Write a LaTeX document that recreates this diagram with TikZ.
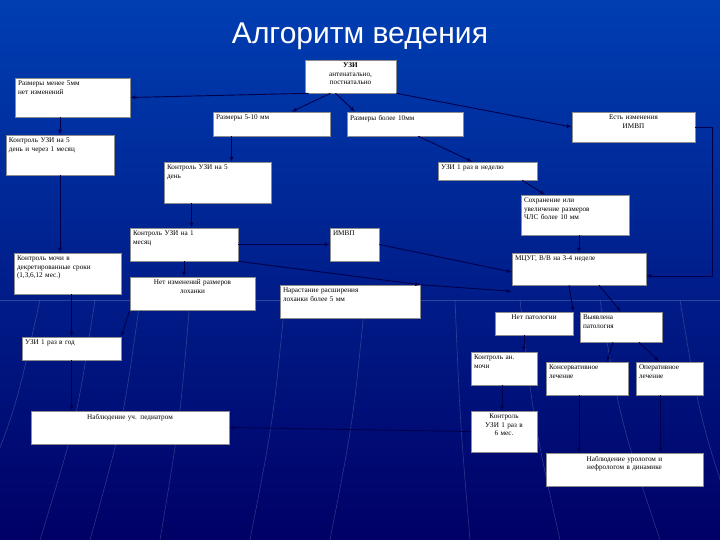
\documentclass[tikz,border=0pt]{standalone}
\usepackage{fontspec}
\setmainfont{Liberation Serif}
\newfontfamily\titlefont{Liberation Sans}
\usetikzlibrary{arrows.meta}
\tikzset{
 box/.style={draw=black!45,fill=white,inner sep=0pt,line width=0.6pt},
 txt/.style={inner sep=3pt,font=\fontsize{7.2}{8.4}\selectfont,text=black},
 arr/.style={draw=blue!30!black,line width=0.9pt,-{Latex[length=5pt,width=4pt]}},
 ln/.style={draw=blue!30!black,line width=0.9pt},
 bgline/.style={draw=white,opacity=0.18,line width=0.6pt}
}
\newcommand\bx[7]{%
\pgfmathsetmacro\bw{#4-#2}\pgfmathsetmacro\bh{#5-#3}\pgfmathsetmacro\tw{#4-#2-6}%
\node[box,minimum width=\bw pt,minimum height=\bh pt] (#1) at ({(#2+#4)/2},{(#3+#5)/2}) {};
\node[txt,text width=\tw pt,align=#6,anchor=north] (#1-t) at (#1.north) {#7};}
\begin{document}
\begin{tikzpicture}[x=1pt,y=-1pt]
\shade[top color=blue!65!cyan!70!black,bottom color=blue!40!black] (0,0) rectangle (720,540);
\useasboundingbox (0,0) rectangle (720,540);
\draw[bgline] (0,300) -- (720,300);
\foreach \a/\b in {95/40,190/160,285/250,365/330,455/470,520/560,600/660,680/740,40/-40,140/90}
  \draw[bgline] (\a,300) .. controls ({\a+(\b-\a)/3},420) .. (\b,540);
\node[font=\titlefont\fontsize{30}{34}\selectfont,text=white] (title) at (360,36) {Алгоритм ведения};
\bx{uzi}{305}{60}{396}{93}{center}{\textbf{УЗИ}\\антенатально,\\постнатально}
\bx{r5}{15}{78}{130}{117}{left}{Размеры менее 5мм\\нет изменений}
\bx{r510}{213}{112}{330}{136}{left}{Размеры 5-10 мм}
\bx{r10}{347}{112}{463}{136}{left}{Размеры более 10мм}
\bx{imvp1}{572}{112}{695}{142}{center}{Есть изменения\\ИМВП}
\bx{k51}{6}{135}{114}{175}{left}{Контроль УЗИ на 5\\день и через 1 месяц}
\bx{k5}{164}{162}{271}{203}{left}{Контроль УЗИ на 5\\день}
\bx{week}{438}{162}{537}{180}{left}{УЗИ 1 раз в неделю}
\bx{save}{521}{195}{629}{235}{left}{Сохранение или\\увеличение размеров\\ЧЛС более 10 мм}
\bx{k1m}{130}{228}{238}{261}{left}{Контроль УЗИ на 1\\месяц}
\bx{imvp2}{330}{228}{379}{261}{left}{ИМВП}
\bx{mcug}{512}{253}{646}{285}{left}{МЦУГ, В/В на 3-4 неделе}
\bx{urine}{14}{253}{121}{294}{left}{Контроль мочи в\\декретированные сроки\\(1,3,6,12 мес.)}
\bx{noch}{130}{277}{255}{310}{center}{Нет изменений размеров\\лоханки}
\bx{grow}{280}{285}{420}{318}{left}{Нарастание расширения\\лоханки более 5 мм}
\bx{nopath}{495}{312}{573}{335}{center}{Нет патологии}
\bx{path}{580}{312}{662}{342}{left}{Выявлена\\патология}
\bx{year}{22}{337}{121}{360}{left}{УЗИ 1 раз в год}
\bx{kan}{471}{352}{537}{385}{left}{Контроль ан.\\мочи}
\bx{cons}{546}{362}{628}{395}{left}{Консервативное\\лечение}
\bx{oper}{636}{362}{703}{395}{left}{Оперативное\\лечение}
\bx{ped}{31}{411}{229}{444}{center}{Наблюдение уч. педиатром}
\bx{k6}{471}{411}{537}{452}{center}{Контроль\\УЗИ 1 раз в\\6 мес.}
\bx{uro}{546}{453}{703}{486}{center}{Наблюдение урологом и\\нефрологом в динамике}
% arrows
\draw[arr] ([xshift=4pt]uzi.south west) -- (r5.east);
\draw[arr] ([xshift=-20pt]uzi.south) -- ([xshift=20pt]r510.north);
\draw[arr] ([xshift=-15pt]uzi.south) -- ([xshift=-50pt]r10.north);
\draw[arr] (uzi.south east) -- (imvp1.west);
\draw[arr] (r5.south -| k51.north) -- (k51.north);
\draw[arr] (k51.south) -- (k51.south |- urine.north);
\draw[arr] (urine.south -| year.north) -- (year.north);
\draw[arr] (noch.south west) -- (year.north east);
\draw[arr] (year.south) -- (year.south |- ped.north);
\draw[arr] (r510.south) ++(-40pt,0) coordinate (a1) -- (a1 |- k5.north);
\draw[arr] (k5.south) ++(-26pt,0) coordinate (a2) -- (a2 |- k1m.north);
\draw[arr] (k1m.south) ++(0,0) coordinate (a3) -- (a3 |- noch.north);
\draw[arr] (k1m.east) -- (imvp2.west);
\draw[arr] (k1m.south east) -- (grow.north east);
\draw[arr] (imvp2.east) -- ([yshift=-3pt]mcug.west);
\draw[arr] (grow.north east) -- ([yshift=-6pt]mcug.south west);
\draw[arr] ([xshift=-45pt]r10.south east) -- ([xshift=-15pt]week.north);
\draw[arr] ([xshift=-15pt]week.south east) -- ([xshift=-30pt]save.north);
\draw[arr] (save.south -| mcug.north) -- (mcug.north);
\draw[arr] (imvp1.east) -- (712,127) -- (712,276) -- (mcug.east |- 0,276);
\draw[arr] ([xshift=-10pt]mcug.south) -- (nopath.north east);
\draw[arr] ([xshift=20pt]mcug.south) -- (path.north);
\draw[arr] (nopath.south) ++(-10pt,0) coordinate (a4) -- (a4 |- kan.north);
\draw[arr] ([xshift=-8pt]path.south) -- ([xshift=20pt]cons.north);
\draw[arr] ([xshift=18pt]path.south) -- ([xshift=-10pt]oper.north);
\draw[arr] (kan.south) ++(-2pt,0) coordinate (a5) -- (a5 |- k6.north);
\draw[arr] (k6.west) -- (ped.east);
\draw[arr] (cons.south) ++(-8pt,0) coordinate (a6) -- (a6 |- uro.north);
\draw[arr] (oper.south) ++(-9pt,0) coordinate (a7) -- (a7 |- uro.north);
\end{tikzpicture}
\end{document}
